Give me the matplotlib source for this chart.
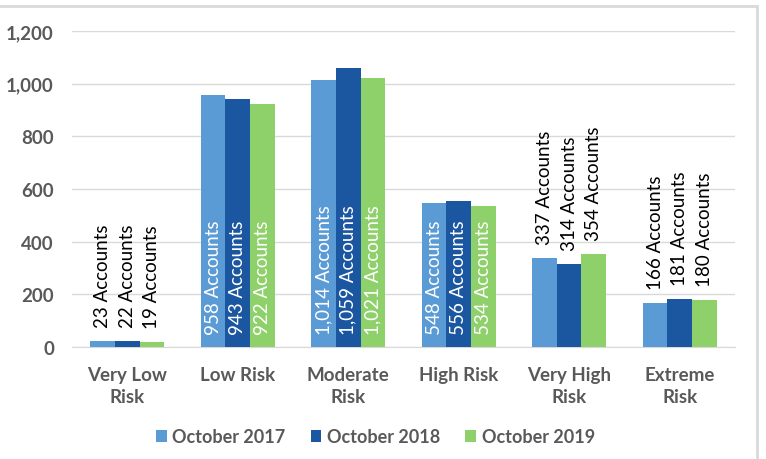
import matplotlib.pyplot as plt
from matplotlib.patches import Rectangle
import numpy as np

categories = ['Very Low\nRisk', 'Low Risk', 'Moderate\nRisk', 'High Risk', 'Very High\nRisk', 'Extreme\nRisk']
series_names = ['October 2017', 'October 2018', 'October 2019']
oct2017 = [23, 958, 1014, 548, 337, 166]
oct2018 = [22, 943, 1059, 556, 314, 181]
oct2019 = [19, 922, 1021, 534, 354, 180]
yticks = [0, 200, 400, 600, 800, 1000, 1200]
inside = [False, True, True, True, False, False]

colors = ['#5B9BD5', '#1B56A0', '#8ED06A']
series = [oct2017, oct2018, oct2019]

plt.rcParams['font.family'] = ['Lato', 'DejaVu Sans']

fig = plt.figure(figsize=(7.66, 4.60), dpi=100)
ax = fig.add_axes([0.094, 0.2435, 0.8655, 0.687])

x = np.arange(len(categories))
w = 0.222
for k, (vals, col, name) in enumerate(zip(series, colors, series_names)):
    pos = x + (k - 1) * w
    ax.bar(pos, vals, w, color=col, label=name, zorder=3)
    for p, v, ins in zip(pos, vals, inside):
        txt = f'{v:,} Accounts'
        if ins:
            ax.annotate(txt, (p, 0), xytext=(0, 9), textcoords='offset points',
                        rotation=90, ha='center', va='bottom', color='white',
                        fontsize=13.5, zorder=4)
        else:
            ax.annotate(txt, (p, v), xytext=(0, 10), textcoords='offset points',
                        rotation=90, ha='center', va='bottom', color='black',
                        fontsize=13.5, zorder=4)

ax.set_xlim(-0.5, len(categories) - 0.5)
ax.set_ylim(0, 1200)
ax.set_yticks(yticks)
ax.set_yticklabels([f'{t:,}' for t in yticks])
ax.set_xticks(x)
ax.set_xticklabels(categories, linespacing=1.35)
ax.tick_params(axis='both', length=0, labelsize=13.5, labelcolor='#595959')
ax.tick_params(axis='y', pad=13)
ax.tick_params(axis='x', pad=14)
for lab in ax.get_xticklabels() + ax.get_yticklabels():
    lab.set_fontweight('bold')
ax.grid(axis='y', color='#D9D9D9', linewidth=1, zorder=0)
for s in ['top', 'right', 'left']:
    ax.spines[s].set_visible(False)
ax.spines['bottom'].set_color('#D9D9D9')

leg = fig.legend(loc='center', bbox_to_anchor=(0.49, 0.048), ncol=3, frameon=False,
                 handlelength=0.6, handleheight=0.6, handletextpad=0.3, columnspacing=1.4,
                 prop={'size': 13, 'weight': 'bold'})
for t in leg.get_texts():
    t.set_color('#595959')

fig.patches.append(Rectangle((-0.01, -0.05), 757 / 766 + 0.01, 1 - 7 / 460 + 0.05,
                             transform=fig.transFigure, fill=False,
                             edgecolor='#D9D9D9', linewidth=2))

fig.savefig('out.png', dpi=100)
